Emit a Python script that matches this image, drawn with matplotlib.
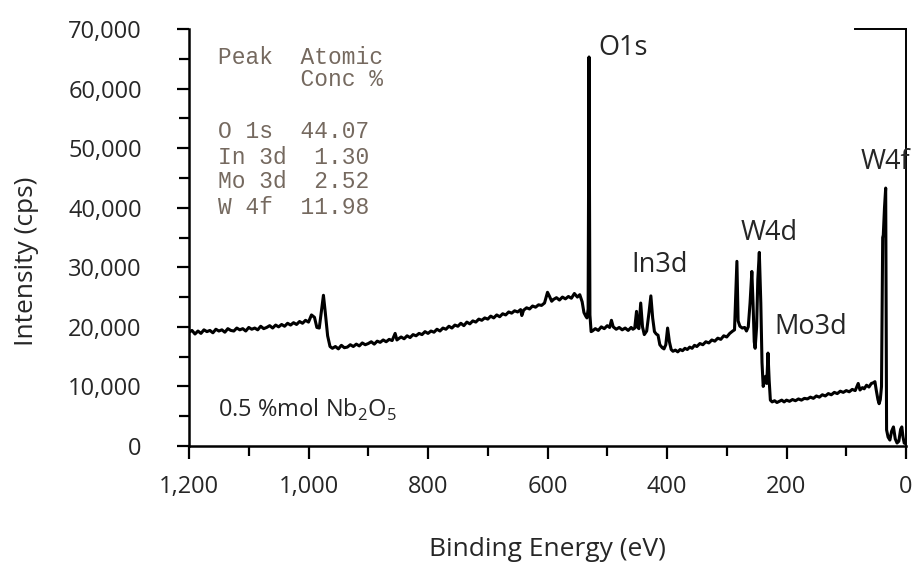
import matplotlib
matplotlib.use('Agg')
import matplotlib.pyplot as plt
from matplotlib.ticker import MultipleLocator, FuncFormatter

# XPS survey (binding energy eV, counts per second)
be = [1200, 1195, 1190, 1185, 1180, 1175, 1170, 1165, 1160, 1155, 1150, 1145, 1140, 1135, 1130,
      1125, 1120, 1115, 1110, 1105, 1100, 1095, 1090, 1085, 1080, 1075, 1070, 1065, 1060, 1055,
      1050, 1045, 1040, 1035, 1030, 1025, 1020, 1015, 1010, 1005, 1000,
      995, 990, 986, 982, 978, 975, 972, 968, 964, 960,
      955, 950, 945, 940, 935, 930, 925, 920, 915, 910, 905, 900, 895, 890, 885, 880, 875, 870,
      865, 860, 855, 852, 848, 845, 840, 835, 830, 825, 820, 815, 810, 805, 800, 795, 790, 785,
      780, 775, 770, 765, 760, 755, 750, 745, 740, 735, 730, 725, 720, 715, 710, 705, 700, 695,
      690, 685, 680, 675, 670, 665, 660, 655, 650, 645, 643, 640, 635, 630, 625, 620, 615, 610,
      605, 600, 597, 593, 590, 585, 580, 575, 570, 565, 560, 555, 550, 546, 542, 539, 536, 534,
      532, 530.5, 529, 527,
      525, 520, 515, 510, 505, 500, 496, 493, 490, 485, 480, 475, 470, 465, 460, 457, 454, 451,
      449, 447, 444, 441, 438, 434, 430, 427, 424, 421, 418, 415, 412, 408, 405, 402, 399, 396,
      393, 390, 386, 382, 378, 374, 370, 366, 362, 358, 354, 350, 345, 340, 335, 330, 325, 320,
      315, 310, 305, 300, 295, 290, 287, 285, 283, 281, 278, 274, 270, 267, 264, 261, 258, 256,
      254, 252.5, 250, 248, 245.5, 243, 241, 239, 237, 235, 233, 231, 229, 227, 224, 220, 216,
      212, 208, 204, 200, 195, 190, 185, 180, 175, 170, 165, 160, 155, 150, 145, 140, 135, 130,
      125, 120, 115, 110, 105, 100, 95, 90, 85, 80, 77, 73, 70, 66, 62, 58, 55, 52, 50, 47, 45,
      43, 41, 39, 38, 36, 34, 32.5, 30, 27, 24, 21, 18, 15, 12, 9, 7, 5, 3, 1]
cps = [19100, 19400, 18800, 19300, 18900, 19500, 19200, 19400, 19000, 19600, 19300, 19500, 19100, 19700, 19400,
       19300, 19800, 19500, 19700, 19300, 19900, 19600, 19800, 19500, 20100, 19700, 19900, 20200, 19800, 20300,
       20000, 20400, 20100, 20600, 20300, 20700, 20400, 20900, 20600, 21100, 20800,
       22000, 21600, 19900, 19800, 23000, 25300, 22500, 18500, 16700, 16400,
       16700, 16300, 16900, 16500, 16600, 17000, 16700, 17100, 16800, 17300, 17000, 17200, 17500, 17100, 17600, 17400, 17800, 17500,
       17900, 17700, 18900, 17800, 18100, 18300, 18000, 18500, 18200, 18700, 18500, 18900, 18700, 19200, 18900, 19300, 19100, 19600,
       19300, 19800, 19600, 20100, 19800, 20300, 20100, 20600, 20200, 20800, 20500, 21000, 20800, 21300, 21100, 21500, 21300, 21800,
       21500, 22000, 21700, 22200, 22000, 22500, 22300, 22700, 22500, 22900, 21900, 22800, 23200, 23000, 23500, 23300, 23700, 23600,
       24000, 25800, 25200, 24300, 24600, 24900, 24500, 25000, 24700, 25100, 24800, 25600, 25000, 25400, 24200, 22400, 21800, 21500,
       23000, 65300, 22000, 19200,
       19300, 19700, 19400, 20000, 19700, 20200, 19900, 21100, 20000, 19600, 19900, 19500, 19800, 19400, 19900, 19600, 19800, 22600,
       19900, 19700, 24000, 20000, 18700, 19300, 22500, 25200, 21500, 19200, 18800, 18600, 17000, 16500, 16300, 17000, 19800, 17500,
       16200, 15900, 16100, 15800, 16200, 16000, 16400, 16200, 16600, 16400, 16900, 16700, 17200, 17000, 17500, 17300, 17800, 17600,
       18100, 17900, 18500, 18300, 18900, 19300, 19500, 25000, 31000, 21000, 20100, 19800, 19900, 19300, 20000, 24000, 29300, 24000,
       17500, 16400, 20000, 28000, 32500, 24000, 14000, 10000, 10800, 11700, 10500, 15600, 11000, 7700, 7400, 7600, 7300,
       7500, 7700, 7400, 7700, 7500, 7800, 7600, 7900, 7700, 8000, 7900, 8200, 8000, 8400, 8200, 8600, 8400, 8800,
       8600, 9000, 8800, 9200, 9000, 9300, 9100, 9500, 9300, 10500, 9400, 9800, 9600, 10200, 9900, 10500, 10600, 10800, 9500, 7800, 7100,
       7800, 10000, 35000, 35400, 40000, 43300, 2700, 1500, 1000, 2500, 3200, 1200, 500, 800, 2800, 3200, 1500, 500, 400]

peak_labels = ['O1s', 'In3d', 'W4d', 'Mo3d', 'W4f']
peak_be = [474, 412, 229, 159, 34]
peak_y = [66800, 30400, 35800, 20000, 47700]

table_rows = ['Peak  Atomic', '      Conc %', 'O 1s  44.07', 'In 3d  1.30', 'Mo 3d  2.52', 'W 4f  11.98']
table_px_y = [57, 80, 132, 157, 182, 207]

plt.rcParams['font.family'] = ['Open Sans', 'DejaVu Sans']

fig = plt.figure(figsize=(9.14, 5.67), dpi=100)
ax = fig.add_axes([189 / 914, 1 - 446 / 567, 717 / 914, 417 / 567])

ax.plot(be, cps, color='black', lw=2.2, solid_joinstyle='round')

ax.set_xlim(1200, 0)
ax.set_ylim(0, 70000)
ax.xaxis.set_major_locator(MultipleLocator(200))
ax.xaxis.set_minor_locator(MultipleLocator(100))
ax.yaxis.set_major_locator(MultipleLocator(10000))
ax.yaxis.set_minor_locator(MultipleLocator(5000))
fmt = FuncFormatter(lambda v, p: '{:,.0f}'.format(v))
ax.xaxis.set_major_formatter(fmt)
ax.yaxis.set_major_formatter(fmt)

txt_col = '#262626'
ax.tick_params(which='major', direction='out', length=9, width=1.6, labelsize=17,
               labelcolor=txt_col)
ax.tick_params(which='minor', direction='out', length=7, width=1.6)
ax.tick_params(axis='x', which='major', pad=12)
ax.tick_params(axis='y', which='major', pad=25)

ax.spines['top'].set_visible(False)
ax.spines['left'].set_linewidth(1.8)
ax.spines['bottom'].set_linewidth(1.8)
ax.spines['right'].set_linewidth(1.4)
# short top edge left over at the top right corner
ax.plot([85, 0], [70000, 70000], color='black', lw=1.4, clip_on=False)

ax.set_xlabel('Binding Energy (eV)', fontsize=19, color=txt_col)
ax.set_ylabel('Intensity (cps)', fontsize=19, color=txt_col)
ax.xaxis.set_label_coords(0.5, (446 - 550) / 417)
ax.yaxis.set_label_coords((27 - 189) / 717, (446 - 261) / 417)
ax.xaxis.label.set_va('center')
ax.yaxis.label.set_va('center')

for lab, x, y in zip(peak_labels, peak_be, peak_y):
    ax.text(x, y, lab, fontsize=19.5, color=txt_col, ha='center', va='center')

ax.text(1151, 6000, '0.5 %mol Nb$_\\mathregular{2}$O$_\\mathregular{5}$', fontsize=17,
        color=txt_col, ha='left', va='center')

for row, py in zip(table_rows, table_px_y):
    ax.text((218 - 189) / 717, (446 - py) / 417, row, transform=ax.transAxes,
            family='Liberation Mono', fontsize=16.5, color='#75695f', ha='left', va='center')

fig.savefig('out.png', dpi=100)
